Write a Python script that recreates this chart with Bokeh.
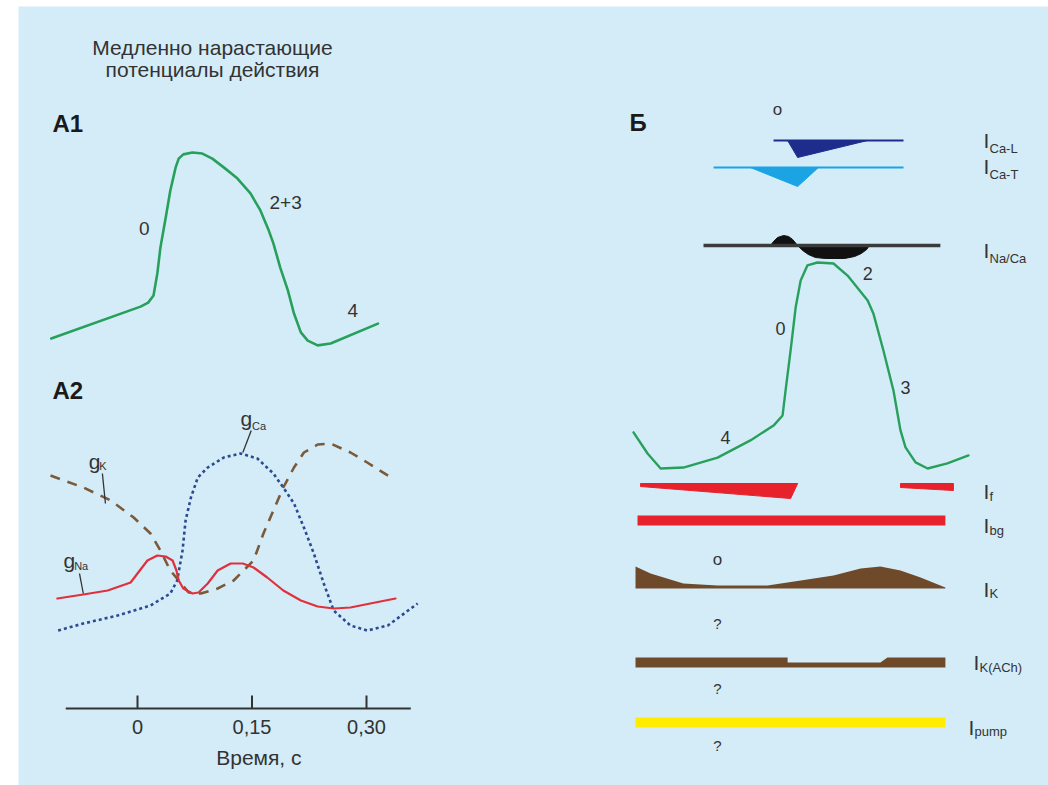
from bokeh.plotting import figure
from bokeh.models import Range1d
from bokeh.core.properties import value
from bokeh.embed import file_html
from bokeh.resources import INLINE

# ======================= DATA =======================
# A1: slowly rising action potential (time, s ; membrane potential, mV)
a1_time = [-0.113, 0.004, 0.014, 0.021, 0.026, 0.030, 0.037, 0.043, 0.050, 0.054, 0.060,
           0.072, 0.085, 0.098, 0.113, 0.131, 0.148, 0.161, 0.172, 0.178, 0.187, 0.197,
           0.205, 0.214, 0.223, 0.236, 0.253, 0.315]
a1_voltage = [-60.0, -48.0, -46.5, -43.8, -35.5, -25.8, -14.5, -4.3, 4.4, 7.7, 9.3,
              10.0, 9.6, 7.7, 4.4, 0.2, -5.4, -11.8, -19.4, -24.2, -33.3, -41.9,
              -50.6, -57.7, -60.8, -62.6, -61.9, -54.4]
a1_phase_text = ["0", "2+3", "4"]
a1_phase_time = [0.009, 0.194, 0.282]
a1_phase_voltage = [-18.6, -8.8, -49.5]

# A2: conductances (time, s ; relative conductance)
gna_time = [-0.105, -0.071, -0.039, -0.009, 0.001, 0.013, 0.026, 0.037, 0.046, 0.051, 0.054,
            0.060, 0.072, 0.080, 0.092, 0.105, 0.122, 0.138, 0.152, 0.170, 0.191, 0.214,
            0.236, 0.257, 0.279, 0.305, 0.338]
gna_value = [0.21, 0.23, 0.25, 0.29, 0.34, 0.40, 0.425, 0.42, 0.40, 0.35, 0.30,
             0.26, 0.235, 0.24, 0.285, 0.35, 0.385, 0.385, 0.365, 0.315, 0.25, 0.20,
             0.17, 0.16, 0.165, 0.185, 0.21]
gca_time = [-0.104, -0.071, -0.026, 0.017, 0.043, 0.052, 0.059, 0.063, 0.070, 0.079, 0.092,
            0.113, 0.135, 0.157, 0.178, 0.191, 0.205, 0.218, 0.231, 0.244, 0.257, 0.279,
            0.301, 0.328, 0.367]
gca_value = [0.05, 0.085, 0.125, 0.175, 0.235, 0.30, 0.45, 0.60, 0.715, 0.815, 0.865,
             0.915, 0.935, 0.91, 0.835, 0.765, 0.685, 0.565, 0.435, 0.285, 0.15, 0.075,
             0.05, 0.075, 0.185]
gk_time = [-0.114, -0.071, -0.035, -0.005, 0.017, 0.030, 0.043, 0.054, 0.067, 0.083, 0.105,
           0.126, 0.152, 0.165, 0.178, 0.191, 0.205, 0.218, 0.236, 0.253, 0.279, 0.301, 0.334]
gk_value = [0.825, 0.765, 0.70, 0.615, 0.535, 0.45, 0.35, 0.30, 0.24, 0.235, 0.26,
            0.30, 0.40, 0.535, 0.65, 0.765, 0.865, 0.94, 0.98, 0.985, 0.94, 0.89, 0.81]
time_ticks = [0.0, 0.15, 0.30]
time_tick_labels = ["0", "0,15", "0,30"]
time_axis_bounds = [-0.094, 0.358]

# leader lines for conductance names (time, g)
g_names = ["Ca", "K", "Na"]
g_leader_t0 = [0.149, -0.046, -0.076]
g_leader_v0 = [1.05, 0.835, 0.335]
g_leader_t1 = [0.138, -0.042, -0.071]
g_leader_v1 = [0.94, 0.685, 0.235]
g_label_t = [0.135, -0.064, -0.097]
g_label_v = [1.11, 0.895, 0.40]
g_sub_t = [0.150, -0.050, -0.083]
g_sub_v = [1.075, 0.875, 0.375]

# B: action potential of a pacemaker cell (relative time ; mV)
b_time = [0.0, 4.2, 8.1, 14.9, 25.1, 34.9, 41.8, 44.5, 45.4, 46.9, 48.4, 49.9, 51.9, 54.9,
          59.7, 63.9, 69.9, 71.6, 74.6, 77.6, 79.7, 81.2, 84.2, 87.8, 93.7, 100.0]
b_voltage = [-50.1, -58.8, -65.0, -64.6, -60.5, -53.4, -47.3, -43.1, -32.8, -16.3, 1.4, 12.6,
             18.8, 20.0, 19.6, 14.6, 4.3, -1.0, -16.3, -32.8, -49.3, -56.3, -62.5, -65.0,
             -62.9, -59.6]
b_phase_text = ["0", "2", "3", "4"]
b_phase_time = [43.9, 69.9, 81.2, 27.5]
b_phase_voltage = [-7.2, 15.5, -31.6, -52.2]

# B: ionic currents (relative time ; amplitude, arb. units, inward < 0)
ical_span = [41.8, 80.6]
ical_t = [46.0, 49.0, 69.9]
ical_amp = [0.0, -0.85, 0.0]
icat_span = [23.9, 80.6]
icat_t = [34.9, 49.0, 55.2]
icat_amp = [0.0, -0.95, 0.0]
inaca_span = [20.9, 91.6]
inaca_out_t = [40.9, 41.8, 43.0, 44.8, 46.3, 47.5, 49.0]
inaca_out_amp = [0.0, 0.2, 0.4, 0.5, 0.45, 0.3, 0.0]
inaca_in_t = [49.0, 50.5, 52.2, 54.3, 57.3, 63.0, 66.0, 68.0, 69.6, 70.4]
inaca_in_amp = [0.0, -0.25, -0.45, -0.6, -0.65, -0.65, -0.55, -0.4, -0.2, 0.0]
if_left_t = [2.1, 49.0, 46.9, 2.1]
if_left_amp = [0.0, 0.0, -0.75, -0.15]
if_right_t = [79.7, 95.5, 95.5, 79.7]
if_right_amp = [0.0, 0.0, -0.35, -0.2]
ibg_t = [1.2, 93.1]
ibg_amp = [0.5, 0.5]
ik_t = [0.6, 5.1, 14.9, 25.1, 40.0, 49.9, 59.7, 67.8, 73.7, 79.7, 85.7, 93.1]
ik_amp = [1.1, 0.75, 0.25, 0.15, 0.15, 0.4, 0.65, 1.0, 1.1, 0.9, 0.55, 0.05]
ikach_t = [0.6, 46.0, 46.0, 73.7, 75.8, 93.1]
ikach_amp = [0.5, 0.5, 0.25, 0.25, 0.5, 0.5]
ipump_t = [0.6, 93.1]
ipump_amp = [0.5, 0.5]
current_subscripts = ["Ca-L", "Ca-T", "Na/Ca", "f", "bg", "K", "K(ACh)", "pump"]

# ======================= LAYOUT / STYLE =======================
W, H = 1048, 785
FL, FT = 18, 6                       # white margin (left, top)
BG = "#d4ecf8"
TXT = "#333333"
FONT = value("Liberation Sans")

# frame spans page px x: FL..W, y: FT..H  (page y grows downwards)
def rng_x(d0, p0, d1, p1):
    s = (d1 - d0) / (p1 - p0)
    return Range1d(start=d0 + (FL - p0) * s, end=d0 + (W - p0) * s)

def rng_y(d0, p0, d1, p1):
    s = (d1 - d0) / (p1 - p0)
    return Range1d(start=d0 + (H - p0) * s, end=d0 + (FT - p0) * s)

p = figure(width=W, height=H, output_backend="svg", toolbar_location=None,
           x_range=Range1d(FL, W), y_range=Range1d(H, FT),
           min_border_left=FL, min_border_top=FT, min_border_right=0, min_border_bottom=0,
           background_fill_color=BG, border_fill_color="white", outline_line_color=None)
p.axis.visible = False
p.grid.visible = False

p.extra_x_ranges = {
    "t": rng_x(0.0, 137, 0.30, 366),       # left panels: time, s
    "b": rng_x(0.0, 633, 100.0, 968),      # right panel: relative time
}
track_base = {"ical": 140, "icat": 167, "inaca": 245, "if": 483, "ibg": 520,
              "ik": 588, "ikach": 667, "ipump": 722}
track_scale = 20  # px per arbitrary unit
yr = {
    "a1": rng_y(-60.0, 338, 10.0, 152),
    "a2": rng_y(0.0, 640, 1.0, 440),
    "bv": rng_y(-65.0, 468, 20.0, 262),
}
for k, base in track_base.items():
    yr[k] = rng_y(0.0, base, 1.0, base - track_scale)
p.extra_y_ranges = yr

def txt(x, y, t, size, xr="default", yrn="default", align="center", baseline="middle",
        bold=False, color=TXT):
    p.text(x=x, y=y, text=t, x_range_name=xr, y_range_name=yrn,
           text_font=FONT, text_font_size=value(size), text_align=align,
           text_baseline=baseline, text_color=color,
           text_font_style="bold" if bold else "normal")

# ---------------- titles ----------------
txt([212, 212], [47, 69], ["Медленно нарастающие", "потенциалы действия"], "21px")
txt([52], [123], ["A1"], "24px", align="left", bold=True, color="#1a1a1a")
txt([52], [390], ["A2"], "24px", align="left", bold=True, color="#1a1a1a")
txt([629], [122], ["Б"], "24px", align="left", bold=True, color="#1a1a1a")

GREEN = "#27a05c"
# ---------------- A1 ----------------
p.line(a1_time, a1_voltage, x_range_name="t", y_range_name="a1",
       line_color=GREEN, line_width=2.6, line_join="round", line_cap="round")
txt(a1_phase_time, a1_phase_voltage, a1_phase_text, "19px", xr="t", yrn="a1")

# ---------------- A2 ----------------
p.line(gk_time, gk_value, x_range_name="t", y_range_name="a2",
       line_color="#7a5a3a", line_width=2.6, line_dash="10 8", line_join="round")
p.line(gca_time, gca_value, x_range_name="t", y_range_name="a2",
       line_color="#2c4a92", line_width=2.6, line_dash="3 3", line_join="round")
p.line(gna_time, gna_value, x_range_name="t", y_range_name="a2",
       line_color="#e0303c", line_width=2.2, line_join="round", line_cap="round")
p.segment(x0=g_leader_t0, y0=g_leader_v0, x1=g_leader_t1, y1=g_leader_v1,
          x_range_name="t", y_range_name="a2", line_color="#333333", line_width=1.3)
txt(g_label_t, g_label_v, ["g", "g", "g"], "21px", xr="t", yrn="a2",
    align="left", baseline="alphabetic")
txt(g_sub_t, g_sub_v, g_names, "11px", xr="t", yrn="a2",
    align="left", baseline="alphabetic")

# time axis (drawn inside the panel)
AX_Y, TICK_TOP = 708, 695
p.segment(x0=[time_axis_bounds[0]], y0=[AX_Y], x1=[time_axis_bounds[1]], y1=[AX_Y],
          x_range_name="t", line_color="#333333", line_width=2)
p.segment(x0=time_ticks, y0=[TICK_TOP] * 3, x1=time_ticks, y1=[AX_Y] * 3,
          x_range_name="t", line_color="#333333", line_width=2)
txt(time_ticks, [726] * 3, time_tick_labels, "20px", xr="t")
txt([0.159], [757], ["Время, с"], "21px", xr="t")

# ---------------- Б ----------------
# I Ca-L
p.line(ical_span, [0, 0], x_range_name="b", y_range_name="ical",
       line_color="#1e2d8c", line_width=2)
p.patch(ical_t, ical_amp, x_range_name="b", y_range_name="ical",
        fill_color="#1e2d8c", line_color="#1e2d8c", line_width=1)
# I Ca-T
p.line(icat_span, [0, 0], x_range_name="b", y_range_name="icat",
       line_color="#1ba3e3", line_width=2)
p.patch(icat_t, icat_amp, x_range_name="b", y_range_name="icat",
        fill_color="#1ba3e3", line_color="#1ba3e3", line_width=1)
# I Na/Ca
p.patch(inaca_out_t, inaca_out_amp, x_range_name="b", y_range_name="inaca",
        fill_color="#111111", line_color="#111111", line_width=1)
p.patch(inaca_in_t, inaca_in_amp, x_range_name="b", y_range_name="inaca",
        fill_color="#111111", line_color="#111111", line_width=1)
p.line(inaca_span, [0, 0], x_range_name="b", y_range_name="inaca",
       line_color="#3a3a3a", line_width=3.5)

# action potential
p.line(b_time, b_voltage, x_range_name="b", y_range_name="bv",
       line_color=GREEN, line_width=2.4, line_join="round", line_cap="round")
txt(b_phase_time, b_phase_voltage, b_phase_text, "18px", xr="b", yrn="bv")

RED = "#e8222c"
BROWN = "#6f4a2a"
# I f
p.patch(if_left_t, if_left_amp, x_range_name="b", y_range_name="if",
        fill_color=RED, line_color=RED, line_width=1)
p.patch(if_right_t, if_right_amp, x_range_name="b", y_range_name="if",
        fill_color=RED, line_color=RED, line_width=1)
# I bg
p.varea(x=ibg_t, y1=[-a / 2 for a in ibg_amp], y2=[a / 2 for a in ibg_amp],
        x_range_name="b", y_range_name="ibg", fill_color=RED)
# I K
p.varea(x=ik_t, y1=[0] * len(ik_t), y2=ik_amp,
        x_range_name="b", y_range_name="ik", fill_color=BROWN)
# I K(ACh)
p.varea(x=ikach_t, y1=[0] * len(ikach_t), y2=ikach_amp,
        x_range_name="b", y_range_name="ikach", fill_color=BROWN)
# I pump
p.varea(x=ipump_t, y1=[-a / 2 for a in ipump_amp], y2=[a / 2 for a in ipump_amp],
        x_range_name="b", y_range_name="ipump", fill_color="#ffec00")

# small marks
txt([777, 717], [109, 559], ["o", "o"], "17px")
txt([717, 717, 717], [623, 688, 745], ["?", "?", "?"], "15px")

# current labels: "I" + subscript
I_x = [983, 983, 983, 983, 983, 983, 973, 968]
I_base = [140, 166, 250, 491, 525, 589, 662, 727]
sub_x = [989, 989, 989, 989, 989, 989, 979, 974]
sub_base = [148, 174, 258, 496, 530, 593, 667, 731]
txt(I_x, I_base, ["I"] * 8, "21px", align="left", baseline="alphabetic")
txt(sub_x, sub_base, current_subscripts, "13px", align="left", baseline="alphabetic")

open("out.html", "w").write(file_html(p, INLINE))
